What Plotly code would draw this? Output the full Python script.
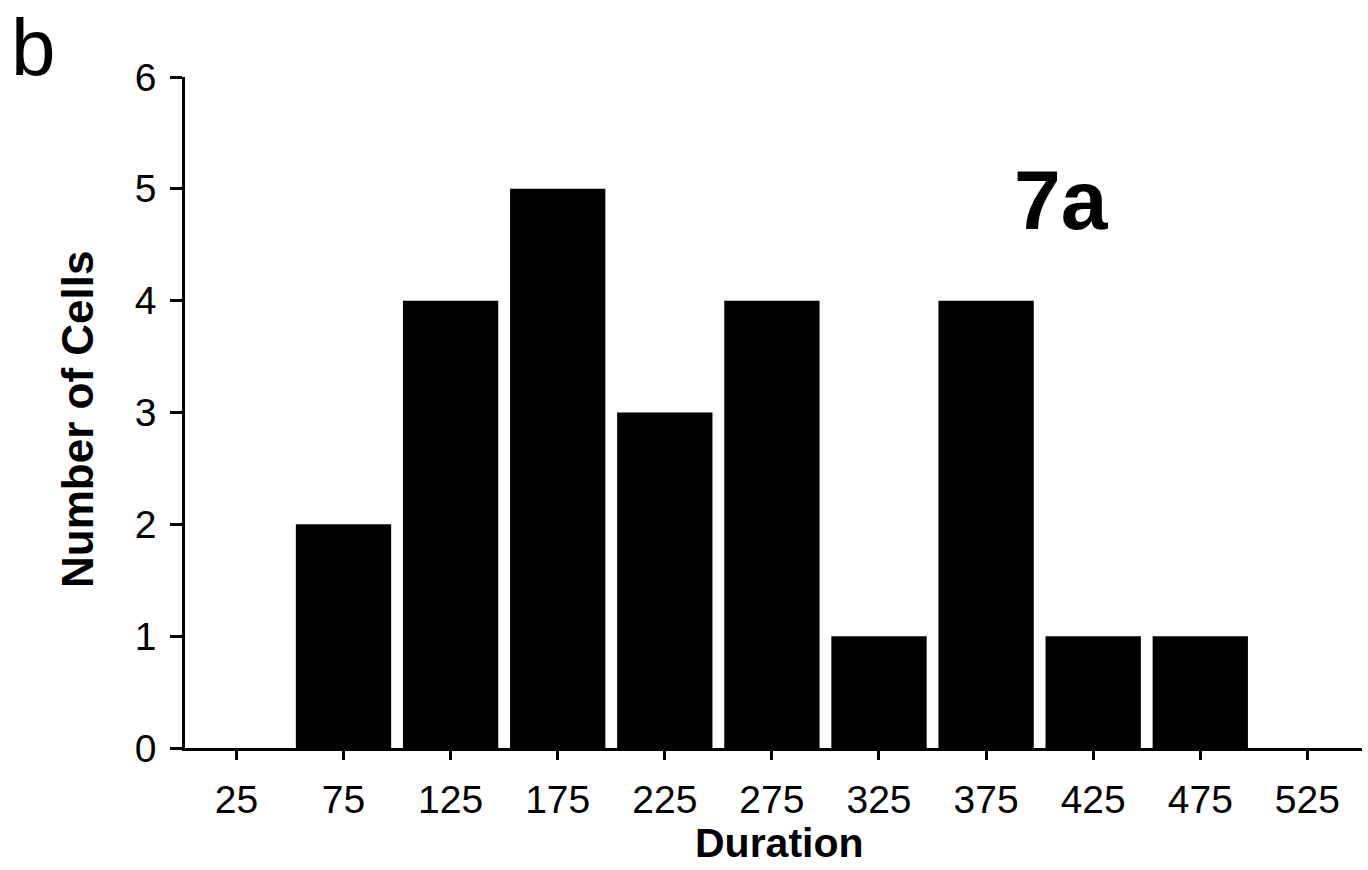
import plotly.graph_objects as go

# Histogram of event durations
durations = ["25", "75", "125", "175", "225", "275", "325", "375", "425", "475", "525"]
cell_counts = [0, 2, 4, 5, 3, 4, 1, 4, 1, 1, 0]
y_ticks = [0, 1, 2, 3, 4, 5, 6]

FONT = "Liberation Sans, Arial, Helvetica, sans-serif"

fig = go.Figure(
    go.Bar(
        x=durations,
        y=cell_counts,
        marker=dict(color="black", line=dict(width=0)),
        hoverinfo="x+y",
    )
)

fig.update_layout(
    width=1368,
    height=870,
    margin=dict(l=185, r=6, t=77, b=122),
    paper_bgcolor="white",
    plot_bgcolor="white",
    bargap=0.11,
    showlegend=False,
    font=dict(family=FONT, color="black"),
)

fig.update_xaxes(
    type="category",
    range=[-0.48, 10.51],
    showline=True,
    linecolor="black",
    linewidth=2.5,
    ticks="outside",
    ticklen=9,
    tickwidth=2.5,
    tickcolor="black",
    showgrid=False,
    zeroline=False,
    tickfont=dict(size=39, family=FONT, color="black"),
    ticklabelstandoff=6,
)

fig.update_yaxes(
    range=[0, 6],
    tickvals=y_ticks,
    showline=True,
    linecolor="black",
    linewidth=2.5,
    ticks="outside",
    ticklen=12,
    tickwidth=2.5,
    tickcolor="black",
    showgrid=False,
    zeroline=False,
    tickfont=dict(size=39, family=FONT, color="black"),
    ticklabelstandoff=6,
)

# Axis titles and panel labels
fig.add_annotation(
    text="<b>Number of Cells</b>", textangle=-90,
    xref="paper", yref="paper", x=-0.092, y=0.49,
    xanchor="center", yanchor="middle", showarrow=False,
    font=dict(size=44, family=FONT, color="black"),
)
fig.add_annotation(
    text="<b>Duration</b>",
    xref="paper", yref="paper", x=0.5047, y=-0.1795,
    xanchor="center", yanchor="bottom", showarrow=False,
    font=dict(size=41, family=FONT, color="black"),
)
fig.add_annotation(
    text="<b>7a</b>",
    xref="paper", yref="paper", x=0.745, y=0.8167,
    xanchor="center", yanchor="middle", showarrow=False,
    font=dict(size=84, family=FONT, color="black"),
)
fig.add_annotation(
    text="b",
    xref="paper", yref="paper", x=-0.129, y=1.1133,
    xanchor="center", yanchor="top", showarrow=False,
    font=dict(size=80, family=FONT, color="black"),
)

fig.write_html("out.html")
